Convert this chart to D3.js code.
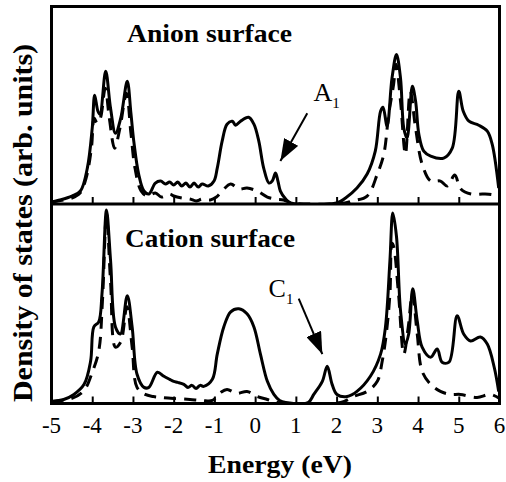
<!DOCTYPE html>
<html>
<head>
<meta charset="utf-8">
<script src="https://cdn.jsdelivr.net/npm/d3@7"></script>
<style>
  html, body { margin: 0; padding: 0; background: #fff; }
  svg { display: block; }
  text { font-family: "Liberation Serif", "Times New Roman", serif; fill: #000; }
</style>
</head>
<body>
<div id="chart"></div>
<script>
// --------------- Data ---------------
// [energy (eV), density of states (arb. units)]
const anionTotal = [
  [-5.0, 1], [-4.8, 3], [-4.5, 7], [-4.29, 12], [-4.12, 35], [-4.0, 75], [-3.94, 108],
  [-3.86, 92], [-3.81, 89], [-3.67, 132], [-3.55, 95], [-3.43, 70], [-3.3, 85], [-3.14, 122],
  [-3.05, 90], [-2.98, 62], [-2.86, 29], [-2.73, 12], [-2.61, 9], [-2.45, 20], [-2.32, 22],
  [-2.2, 19], [-2.1, 21], [-2.0, 18], [-1.9, 21], [-1.8, 17], [-1.7, 20], [-1.6, 16],
  [-1.5, 20], [-1.4, 16], [-1.3, 19], [-1.15, 17], [-1.01, 22], [-0.93, 35], [-0.81, 62],
  [-0.69, 79], [-0.56, 82], [-0.48, 78], [-0.36, 82], [-0.16, 86], [-0.03, 79], [0.09, 62],
  [0.21, 35], [0.34, 20], [0.42, 22], [0.5, 30], [0.56, 22], [0.62, 12], [0.75, 4], [0.87, 0],
  [2.0, 0], [2.22, 5], [2.5, 15], [2.75, 29], [2.95, 52], [3.08, 92], [3.14, 96], [3.24, 77],
  [3.36, 125], [3.47, 149], [3.57, 125], [3.65, 75], [3.73, 65], [3.86, 117], [3.94, 102],
  [4.02, 69], [4.14, 52], [4.31, 47], [4.63, 45], [4.84, 55], [5.0, 112], [5.11, 92],
  [5.25, 82], [5.49, 78], [5.7, 72], [5.82, 59], [5.98, 15]
];
const anionSurface = [
  [-5.0, 1], [-4.5, 5], [-4.3, 10], [-4.15, 25], [-4.02, 55], [-3.95, 85], [-3.88, 80],
  [-3.8, 85], [-3.68, 115], [-3.58, 85], [-3.45, 55], [-3.32, 75], [-3.16, 110], [-3.05, 70],
  [-2.95, 35], [-2.8, 12], [-2.65, 7], [-2.45, 10], [-2.3, 6], [-2.1, 9], [-2.0, 7],
  [-1.8, 5], [-1.6, 4], [-1.45, 2], [-1.3, 4], [-1.1, 3], [-0.95, 6], [-0.81, 12],
  [-0.6, 19], [-0.4, 14], [-0.2, 15], [0.05, 12], [0.3, 6], [0.5, 4], [0.7, 3], [0.9, 0],
  [2.2, 0], [2.38, 2], [2.75, 7], [3.0, 29], [3.16, 49], [3.28, 89], [3.4, 119], [3.46, 139],
  [3.57, 102], [3.69, 49], [3.81, 112], [3.94, 75], [4.1, 39], [4.31, 22], [4.55, 22],
  [4.72, 17], [4.9, 28], [5.05, 14], [5.3, 9], [5.6, 9], [5.85, 8], [6.0, 5]
];
const cationTotal = [
  [-5.0, 1], [-4.7, 3], [-4.45, 8], [-4.2, 18], [-4.04, 41], [-3.96, 75], [-3.84, 80],
  [-3.76, 108], [-3.65, 191], [-3.55, 141], [-3.43, 75], [-3.31, 68], [-3.14, 106],
  [-3.02, 75], [-2.9, 28], [-2.73, 15], [-2.61, 15], [-2.4, 30], [-2.24, 26], [-2.1, 23],
  [-2.0, 21], [-1.9, 20], [-1.75, 18], [-1.65, 15], [-1.55, 17], [-1.45, 14], [-1.35, 17],
  [-1.26, 16], [-1.05, 23], [-0.93, 48], [-0.77, 75], [-0.6, 90], [-0.4, 93], [-0.2, 88],
  [-0.03, 75], [0.13, 48], [0.3, 21], [0.46, 8], [0.6, 2], [0.75, 0], [1.3, 0], [1.44, 8],
  [1.65, 21], [1.77, 36], [1.89, 18], [2.01, 8], [2.26, 6], [2.5, 11], [2.83, 26], [3.08, 48],
  [3.2, 75], [3.31, 141], [3.38, 188], [3.47, 165], [3.57, 91], [3.69, 58], [3.77, 68],
  [3.87, 113], [3.98, 81], [4.1, 55], [4.31, 45], [4.47, 53], [4.59, 40], [4.76, 40],
  [4.96, 86], [5.12, 68], [5.29, 61], [5.53, 65], [5.7, 58], [5.87, 35], [5.98, 11]
];
const cationSurface = [
  [-5.0, 1], [-4.5, 4], [-4.2, 12], [-4.0, 30], [-3.84, 51], [-3.75, 100], [-3.65, 185],
  [-3.55, 120], [-3.43, 55], [-3.3, 60], [-3.15, 95], [-3.02, 55], [-2.9, 15], [-2.7, 8],
  [-2.5, 6], [-2.3, 5], [-2.0, 4], [-1.6, 3], [-1.3, 2], [-1.05, 2], [-0.85, 10], [-0.69, 13],
  [-0.45, 9], [-0.2, 11], [0.05, 6], [0.3, 3], [0.55, 0], [2.1, 0], [2.42, 6], [2.75, 11],
  [3.0, 21], [3.12, 41], [3.22, 68], [3.31, 108], [3.36, 158], [3.4, 155], [3.52, 108],
  [3.65, 48], [3.76, 75], [3.86, 108], [3.98, 68], [4.1, 31], [4.31, 18], [4.55, 11],
  [4.8, 8], [5.04, 8], [5.45, 5], [5.77, 8], [6.0, 4]
];

const xTicks = [-5, -4, -3, -2, -1, 0, 1, 2, 3, 4, 5, 6];
const panelTitles = ["Anion surface", "Cation surface"];
// annotation arrows: label, label position, arrow start, arrow tip (energy, DOS)
const annotations = [
  { panel: 0, label: "A", sub: "1", at: [1.43, 102], from: [1.28, 90], to: [0.62, 42] },
  { panel: 1, label: "C", sub: "1", at: [0.33, 105], from: [1.07, 103], to: [1.65, 48] }
];

// --------------- Layout ---------------
const WIDTH = 506;
const HEIGHT = 482;
const LEFT = 51.5;
const RIGHT = 499.5;
const PANEL_TOP = [6.5, 204];
const PANEL_BOTTOM = [204, 403.5];
const Y_MAX = 197;

const svg = d3.select("#chart")
  .append("svg")
  .attr("width", WIDTH)
  .attr("height", HEIGHT);

const x = d3.scaleLinear().domain([-5, 6]).range([LEFT, RIGHT]);

const series = [
  [anionTotal, anionSurface],
  [cationTotal, cationSurface]
];

svg.append("defs").append("marker")
  .attr("id", "head")
  .attr("markerUnits", "userSpaceOnUse")
  .attr("viewBox", "0 0 22 16")
  .attr("refX", 22)
  .attr("refY", 8)
  .attr("markerWidth", 22)
  .attr("markerHeight", 16)
  .attr("orient", "auto")
  .append("path")
  .attr("d", "M0,0 L22,8 L0,16 Z")
  .attr("fill", "#000");

panelTitles.forEach((title, p) => {
  const y = d3.scaleLinear()
    .domain([0, Y_MAX])
    .range([PANEL_BOTTOM[p] - 1, PANEL_TOP[p]]);

  const g = svg.append("g");

  g.append("clipPath")
    .attr("id", "clip" + p)
    .append("rect")
    .attr("x", LEFT)
    .attr("y", PANEL_TOP[p])
    .attr("width", RIGHT - LEFT)
    .attr("height", PANEL_BOTTOM[p] - PANEL_TOP[p]);

  const line = d3.line()
    .x(d => x(d[0]))
    .y(d => y(d[1]))
    .curve(d3.curveCatmullRom.alpha(0.5));

  // solid = total, dashed = surface layer
  g.append("path")
    .datum(series[p][0])
    .attr("clip-path", `url(#clip${p})`)
    .attr("d", line)
    .attr("fill", "none")
    .attr("stroke", "#000")
    .attr("stroke-width", 3)
    .attr("stroke-linejoin", "round");

  g.append("path")
    .datum(series[p][1])
    .attr("clip-path", `url(#clip${p})`)
    .attr("d", line)
    .attr("fill", "none")
    .attr("stroke", "#000")
    .attr("stroke-width", 3)
    .attr("stroke-dasharray", "12,8");

  // inward ticks on the bottom edge of each panel
  const axis = d3.axisTop(x).tickValues(xTicks).tickSize(7).tickFormat("");
  g.append("g")
    .attr("transform", `translate(0,${PANEL_BOTTOM[p]})`)
    .call(axis)
    .call(a => a.select(".domain").remove())
    .call(a => a.selectAll("line").attr("stroke-width", 2));

  g.append("text")
    .attr("x", p === 0 ? 127 : 125)
    .attr("y", p === 0 ? 42 : 247)
    .attr("font-size", 25)
    .attr("font-weight", "bold")
    .attr("textLength", p === 0 ? 165 : 170)
    .attr("lengthAdjust", "spacingAndGlyphs")
    .text(title);

  annotations.filter(a => a.panel === p).forEach(a => {
    g.append("line")
      .attr("x1", x(a.from[0]))
      .attr("y1", y(a.from[1]))
      .attr("x2", x(a.to[0]))
      .attr("y2", y(a.to[1]))
      .attr("stroke", "#000")
      .attr("stroke-width", 2)
      .attr("marker-end", "url(#head)");
    const t = g.append("text")
      .attr("x", x(a.at[0]))
      .attr("y", y(a.at[1]))
      .attr("font-size", 26);
    t.append("tspan").text(a.label);
    t.append("tspan").attr("font-size", 15).attr("dy", 7).text(a.sub);
  });
});

// frame: outer box and divider
svg.append("rect")
  .attr("x", LEFT)
  .attr("y", PANEL_TOP[0])
  .attr("width", RIGHT - LEFT)
  .attr("height", PANEL_BOTTOM[1] - PANEL_TOP[0])
  .attr("fill", "none")
  .attr("stroke", "#000")
  .attr("stroke-width", 3);

svg.append("line")
  .attr("x1", LEFT)
  .attr("x2", RIGHT)
  .attr("y1", PANEL_BOTTOM[0])
  .attr("y2", PANEL_BOTTOM[0])
  .attr("stroke", "#000")
  .attr("stroke-width", 3);

// tick labels
svg.append("g")
  .selectAll("text")
  .data(xTicks)
  .enter()
  .append("text")
  .attr("x", d => x(d))
  .attr("y", 433)
  .attr("text-anchor", "middle")
  .attr("font-size", 23)
  .text(d => d);

svg.append("text")
  .attr("x", 280)
  .attr("y", 473)
  .attr("text-anchor", "middle")
  .attr("font-size", 26)
  .attr("font-weight", "bold")
  .attr("textLength", 144)
  .attr("lengthAdjust", "spacingAndGlyphs")
  .text("Energy (eV)");

svg.append("text")
  .attr("transform", "translate(32,223) rotate(-90)")
  .attr("text-anchor", "middle")
  .attr("font-size", 28)
  .attr("font-weight", "bold")
  .attr("textLength", 358)
  .attr("lengthAdjust", "spacingAndGlyphs")
  .text("Density of states (arb. units)");
</script>
</body>
</html>
